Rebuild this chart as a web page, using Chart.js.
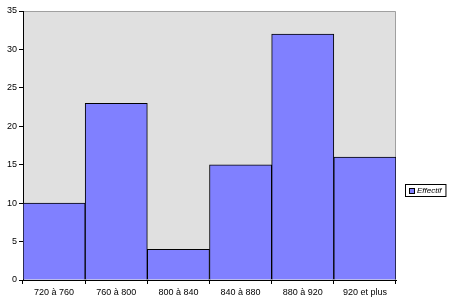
<!DOCTYPE html>
<html><head><meta charset="utf-8">
<script src="https://cdn.jsdelivr.net/npm/chart.js@4/dist/chart.umd.min.js"></script>
<style>html,body{margin:0;padding:0;background:#fff}#w{width:450px;height:302px}</style>
</head><body><div id="w"><canvas id="c" width="450" height="302"></canvas></div>
<script>
const categories = ["720 à 760","760 à 800","800 à 840","840 à 880","880 à 920","920 et plus"];
const effectif = [10, 23, 4, 15, 32, 16];
const seriesLabel = "Effectif";
const yTicks = [0,5,10,15,20,25,30,35];

const bgPlugin = {
  id:'bg',
  beforeDraw(chart){
    const {ctx, chartArea:a} = chart;
    ctx.save();
    ctx.fillStyle = '#e0e0e0';
    ctx.fillRect(a.left, a.top, a.right-a.left, a.bottom-a.top);
    ctx.strokeStyle = '#a0a0a0';
    ctx.lineWidth = 1;
    ctx.beginPath();
    ctx.moveTo(a.left, a.top+0.5); ctx.lineTo(a.right-0.5, a.top+0.5); ctx.lineTo(a.right-0.5, a.bottom);
    ctx.stroke();
    ctx.restore();
  },
  afterDraw(chart){
    const ctx = chart.ctx;
    const ds = chart.data.datasets[0];
    ctx.save();
    ctx.font = 'italic 8px "Liberation Sans", Arial, sans-serif';
    const tw = ctx.measureText(ds.label).width;
    const x = 405, y = 184, h = 12, w = 4 + 6 + 3 + tw + 3;
    ctx.fillStyle = '#fff';
    ctx.fillRect(x, y, w, h);
    ctx.strokeStyle = '#000';
    ctx.lineWidth = 1;
    ctx.strokeRect(x+0.5, y+0.5, w, h);
    ctx.fillStyle = ds.backgroundColor;
    ctx.fillRect(x+4, y+4, 6, 6);
    ctx.strokeStyle = '#000';
    ctx.strokeRect(x+4.5, y+4.5, 5, 5);
    ctx.fillStyle = '#000';
    ctx.textBaseline = 'middle';
    ctx.fillText(ds.label, x+12, y+h/2+1);
    ctx.restore();
  }
};

new Chart(document.getElementById('c'), {
  type:'bar',
  data:{ labels: categories, datasets:[{ label: seriesLabel, data: effectif,
    backgroundColor:'#8080ff', borderColor:'#000', borderWidth:1,
    barPercentage:1, categoryPercentage:1 }]},
  options:{
    responsive:false, animation:false,
    layout:{ padding:{ top:11, right:54, left:0, bottom:0 } },
    plugins:{ legend:{display:false}, tooltip:{enabled:false} },
    scales:{
      x:{ offset:true,
        grid:{ display:true, drawOnChartArea:false, offset:true, color:'#000', tickLength:4, tickWidth:1 },
        border:{ display:true, color:'#000', width:1 },
        ticks:{ color:'#000', font:{ family:'"Liberation Sans", Arial, sans-serif', size:9 }, padding:3, maxRotation:0 },
        afterFit(s){ s.height = 22; }
      },
      y:{ min:0, max:35,
        afterBuildTicks(s){ s.ticks = yTicks.map(v=>({value:v})); },
        grid:{ display:true, drawOnChartArea:false, color:'#000', tickLength:4 },
        border:{ display:true, color:'#000', width:1 },
        ticks:{ color:'#000', font:{ family:'"Liberation Sans", Arial, sans-serif', size:9 }, padding:2 },
        afterFit(s){ s.width = 23; }
      }
    }
  },
  plugins:[bgPlugin]
});
</script></body></html>
